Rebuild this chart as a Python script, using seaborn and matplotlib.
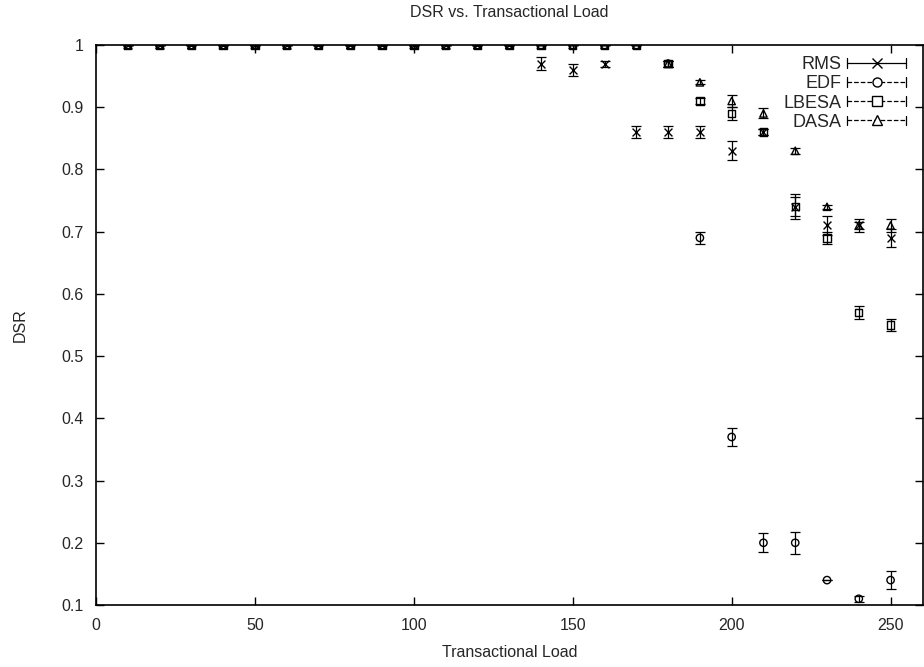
import numpy as np
import pandas as pd
import matplotlib
matplotlib.use("Agg")
import matplotlib.pyplot as plt
import seaborn as sns
from matplotlib.lines import Line2D
from matplotlib.legend_handler import HandlerBase

# ---- data ----
load = [10, 20, 30, 40, 50, 60, 70, 80, 90, 100, 110, 120, 130, 140, 150, 160, 170,
        180, 190, 200, 210, 220, 230, 240, 250]
rms = [1, 1, 1, 1, 1, 1, 1, 1, 1, 1, 1, 1, 1, 0.97, 0.96, 0.97, 0.86,
       0.86, 0.86, 0.83, 0.86, 0.74, 0.71, 0.71, 0.69]
rms_err = [0, 0, 0, 0, 0, 0, 0, 0, 0, 0, 0, 0, 0, 0.01, 0.01, 0.005, 0.01,
           0.01, 0.01, 0.015, 0.005, 0.02, 0.015, 0.01, 0.015]
edf = [1, 1, 1, 1, 1, 1, 1, 1, 1, 1, 1, 1, 1, 1, 1, 1, 1,
       0.97, 0.69, 0.37, 0.20, 0.20, 0.14, 0.11, 0.14]
edf_err = [0, 0, 0, 0, 0, 0, 0, 0, 0, 0, 0, 0, 0, 0, 0, 0, 0,
           0.005, 0.01, 0.015, 0.015, 0.018, 0.0, 0.005, 0.015]
lbesa = [1, 1, 1, 1, 1, 1, 1, 1, 1, 1, 1, 1, 1, 1, 1, 1, 1,
         0.97, 0.91, 0.89, 0.86, 0.74, 0.69, 0.57, 0.55]
lbesa_err = [0, 0, 0, 0, 0, 0, 0, 0, 0, 0, 0, 0, 0, 0, 0, 0, 0,
             0.005, 0.005, 0.01, 0.005, 0.015, 0.01, 0.01, 0.01]
dasa = [1, 1, 1, 1, 1, 1, 1, 1, 1, 1, 1, 1, 1, 1, 1, 1, 1,
        0.97, 0.94, 0.91, 0.89, 0.83, 0.74, 0.71, 0.71]
dasa_err = [0, 0, 0, 0, 0, 0, 0, 0, 0, 0, 0, 0, 0, 0, 0, 0, 0,
            0.005, 0.003, 0.01, 0.008, 0.005, 0.003, 0.005, 0.01]
series_names = ["RMS", "EDF", "LBESA", "DASA"]
x_ticks = [0, 50, 100, 150, 200, 250]
y_ticks = [0.1, 0.2, 0.3, 0.4, 0.5, 0.6, 0.7, 0.8, 0.9, 1.0]

values = {"RMS": (rms, rms_err), "EDF": (edf, edf_err),
          "LBESA": (lbesa, lbesa_err), "DASA": (dasa, dasa_err)}
styles = {"RMS": dict(marker="x", ls="-"),
          "EDF": dict(marker="o", ls=(0, (4, 3))),
          "LBESA": dict(marker="s", ls=(0, (2, 3))),
          "DASA": dict(marker="^", ls=(0, (1, 1.5)))}

sns.set_theme(style="white")
plt.rcParams["font.family"] = ["Liberation Sans", "DejaVu Sans"]
plt.rcParams["font.size"] = 11.5

fig = plt.figure(figsize=(9.24, 6.67), dpi=100)
ax = fig.add_axes([96 / 924, 62 / 667, 827 / 924, 560 / 667])

frames = []
for name in series_names:
    y, e = values[name]
    frames.append(pd.DataFrame({"load": load, "dsr": y, "err": e, "series": name}))
df = pd.concat(frames, ignore_index=True)

for name in series_names:
    d = df[df.series == name]
    ax.errorbar(d["load"], d["dsr"], yerr=d["err"], fmt="none", ecolor="black",
                elinewidth=0.9, capsize=3.5, capthick=0.9, zorder=2)
    st = styles[name]
    if st["marker"] == "x":
        sns.scatterplot(data=d, x="load", y="dsr", marker="x", color="black",
                        s=32, linewidth=1.0, ax=ax, zorder=3, legend=False)
    else:
        sns.scatterplot(data=d, x="load", y="dsr", marker=st["marker"],
                        facecolor="none", edgecolor="black", s=28,
                        linewidth=1.0, ax=ax, zorder=3, legend=False)

ax.set_xlim(0, 260.2)
ax.set_ylim(0.1, 1.0)
ax.set_xticks(x_ticks)
ax.set_yticks(y_ticks)
ax.set_xticklabels([str(v) for v in x_ticks])
ax.set_yticklabels([("%g" % v) for v in y_ticks])
ax.tick_params(direction="in", length=6, width=1, color="black",
               top=True, right=True, bottom=True, left=True,
               labelsize=11.5, pad=9)
for sp in ax.spines.values():
    sp.set_color("black")
    sp.set_linewidth(1.2)
ax.set_xlabel("Transactional Load", fontsize=11.5, labelpad=9)
ax.set_ylabel("DSR", fontsize=11.5, labelpad=24)
ax.set_title("DSR vs. Transactional Load", fontsize=11.5, y=1.0, pad=20)


class GnuHandler(HandlerBase):
    def create_artists(self, legend, orig_handle, xdescent, ydescent,
                       width, height, fontsize, trans):
        y = height / 2 - ydescent
        x0, x1 = -xdescent, width - xdescent
        h = 3.5
        line = Line2D([x0, x1], [y, y], color="black", lw=0.9,
                      linestyle=orig_handle.get_linestyle())
        caps = Line2D([x0, x0, np.nan, x1, x1], [y - h, y + h, np.nan, y - h, y + h],
                      color="black", lw=0.9)
        mk = orig_handle.get_marker()
        mkr = Line2D([(x0 + x1) / 2], [y], marker=mk, ls="none",
                     markersize=6.5, markerfacecolor="white" if mk != "x" else "black",
                     markeredgecolor="black", markeredgewidth=1.0)
        for a in (line, caps, mkr):
            a.set_transform(trans)
        return [line, caps, mkr]


handles = [Line2D([], [], color="black", marker=styles[n]["marker"], linestyle=styles[n]["ls"])
           for n in series_names]
leg = ax.legend(handles, series_names, loc="upper right", markerfirst=False,
                frameon=False, handlelength=3.3, handletextpad=0.3,
                labelspacing=0.12, fontsize=13, borderaxespad=0.0,
                borderpad=0.0, handler_map={Line2D: GnuHandler()},
                bbox_to_anchor=(0.98, 0.98))

fig.savefig("out.png", dpi=100)
